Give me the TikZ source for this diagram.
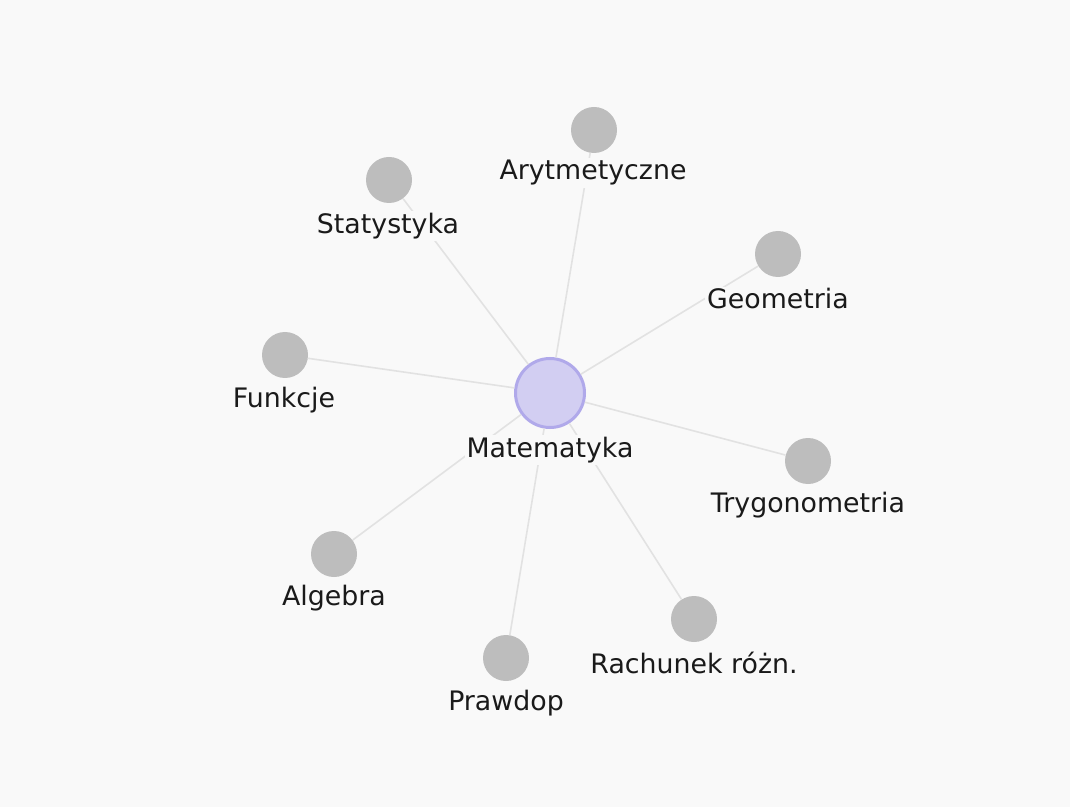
\documentclass[tikz,border=0pt]{standalone}
\usepackage{fontspec}
\setmainfont{DejaVu Sans}
\definecolor{bg}{HTML}{F9F9F9}
\definecolor{edgec}{HTML}{E2E2E2}
\definecolor{leaf}{HTML}{BDBDBD}
\definecolor{hubfill}{HTML}{D2CEF2}
\definecolor{hubdraw}{HTML}{B0A9EA}
\definecolor{txt}{HTML}{1A1A1A}
\begin{document}
\begin{tikzpicture}[x=0.5pt,y=-0.5pt,
  leafnode/.style={circle,fill=leaf,minimum size=23pt,inner sep=0pt},
  hubnode/.style={circle,fill=hubfill,draw=hubdraw,line width=1.5pt,minimum size=34.5pt,inner sep=0pt},
  lbl/.style={font=\fontsize{13.4}{15}\selectfont,text=txt,fill=bg,inner sep=1pt},
  conn/.style={draw=edgec,line width=0.8pt}]
\fill[bg] (0,0) rectangle (1070,807);
\useasboundingbox (0,0) rectangle (1070,807);
\node[hubnode] (mat) at (550,393) {};
\node[leafnode] (ary) at (594,130) {};
\node[leafnode] (sta) at (389,180) {};
\node[leafnode] (geo) at (778,254) {};
\node[leafnode] (fun) at (285,355) {};
\node[leafnode] (try) at (808,461) {};
\node[leafnode] (alg) at (334,554) {};
\node[leafnode] (pra) at (506,658) {};
\node[leafnode] (rac) at (694,619) {};
\foreach \n in {ary,sta,geo,fun,try,alg,pra,rac}{\draw[conn] (mat) -- (\n);}
\node[lbl] (lmat) at (550,450) {Matematyka};
\node[lbl] (lary) at (593,173) {Arytmetyczne};
\node[lbl] (lsta) at (388,226) {Statystyka};
\node[lbl] (lgeo) at (778,299) {Geometria};
\node[lbl] (lfun) at (284,400) {Funkcje};
\node[lbl] (ltry) at (808,505) {Trygonometria};
\node[lbl] (lalg) at (334,598) {Algebra};
\node[lbl] (lpra) at (506,703) {Prawdop};
\node[lbl] (lrac) at (694,663) {Rachunek różn.};
\end{tikzpicture}
\end{document}
